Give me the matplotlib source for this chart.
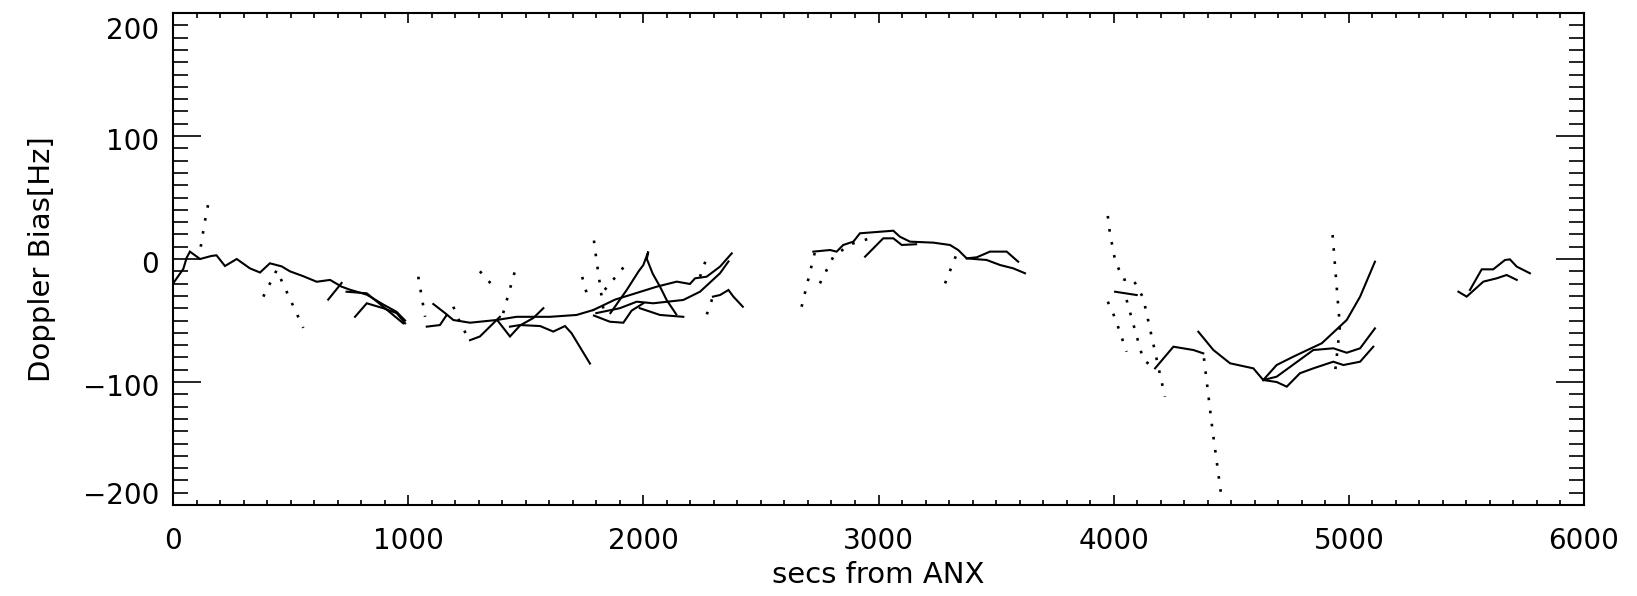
import matplotlib
matplotlib.use("Agg")
import matplotlib.pyplot as plt
from matplotlib.ticker import MultipleLocator
from matplotlib.transforms import ScaledTranslation

# ---------------- data ----------------
x_ticks = [0, 1000, 2000, 3000, 4000, 5000, 6000]
y_ticks = [-200, -100, 0, 100, 200]
x_label = "secs from ANX"
y_label = "Doppler Bias[Hz]"

# pass 1 (0 - 1000 s)
p1a_x = [0, 44, 58, 72, 115, 164, 185, 221, 271, 327, 370, 412, 462, 497, 554, 611, 668, 717, 753, 824, 894, 951, 987]
p1a_y = [-20, -8, 1, 6, 0, 2.5, 3, -5.7, 0, -7.6, -11, -3.5, -6, -10, -14, -18.5, -17, -22.5, -25, -29, -37, -43, -50]
p1b_x = [660, 717]
p1b_y = [-33, -19.5]
p1c_x = [738, 824, 894, 979]
p1c_y = [-26.6, -27.9, -38.8, -52.3]
p1d_x = [774, 824, 894, 951, 987]
p1d_y = [-47, -36, -40, -44, -52.3]
p1e_x = [118, 135, 150]
p1e_y = [10, 30, 45]
p1f_x = [384, 441, 554]
p1f_y = [-30.6, -9, -56]

# pass 2 (1000 - 2450 s)
p2a_x = [1043, 1072]
p2a_y = [-14.4, -47]
p2b_x = [1079, 1135, 1164]
p2b_y = [-55, -53.7, -45.5]
p2c_x = [1107, 1157, 1192, 1263, 1376, 1461, 1603, 1716, 1787]
p2c_y = [-36.6, -44, -49.6, -51.8, -49.6, -47, -47, -45.5, -41.5]
p2d_x = [1192, 1228, 1263]
p2d_y = [-38.8, -55, -66]
p2e_x = [1263, 1305, 1390]
p2e_y = [-66, -63, -47]
p2f_x = [1404, 1461]
p2f_y = [-44, -5]
p2g_x = [1380, 1433, 1476, 1532, 1575]
p2g_y = [-50, -63, -54, -48, -40]
p2h_x = [1433, 1476, 1561, 1617, 1667, 1695, 1773]
p2h_y = [-55, -53.7, -54.5, -59, -54.5, -60.4, -85]
p2i_x = [1305, 1361]
p2i_y = [-10, -22]
p2j_x = [1740, 1765]
p2j_y = [-14.6, -32]
p2k_x = [1790, 1800, 1815, 1830]
p2k_y = [15, 0, -20, -41]
p2l_x = [1787, 1880, 1943, 2057, 2142, 2198, 2220, 2269, 2326, 2376]
p2l_y = [-41.5, -33, -29.3, -22.5, -18.4, -20.3, -15.7, -14.4, -6.2, 4.6]
p2m_x = [1800, 1900, 1972, 2042, 2170, 2241, 2326, 2362]
p2m_y = [-44, -40, -34.7, -36, -33.3, -26.6, -11.6, -2]
p2n_x = [1790, 1858, 1915, 1950, 2000]
p2n_y = [-46, -51, -51.8, -42, -36]
p2o_x = [1985, 2071, 2170]
p2o_y = [-40, -45.5, -47]
p2p_x = [1836, 1880, 1901, 1929]
p2p_y = [-25, -15, -10.3, -3.5]
p2q_x = [1860, 1930, 1980, 2000, 2021, 2015, 2040, 2071, 2099, 2140]
p2q_y = [-44, -25, -10, -4.9, 6, 0, -12, -22.5, -33.3, -45]
p2r_x = [2270, 2296]
p2r_y = [-45, -30.6]
p2s_x = [2296, 2326, 2362, 2383, 2423]
p2s_y = [-30.6, -29.3, -25.2, -30.6, -38.8]
p2t_x = [2241, 2276]
p2t_y = [-14.4, 4.6]

# pass 3 (2650 - 3650 s)
p3a_x = [2673, 2730]
p3a_y = [-38.8, 6]
p3b_x = [2723, 2794, 2822, 2850, 2893, 2921, 3063, 3091, 3134, 3233, 3304, 3339, 3375, 3418, 3474, 3545, 3594]
p3b_y = [6, 7.3, 6, 11.4, 14.1, 20.9, 23, 18.1, 14.1, 13.3, 11.4, 7.3, 0.5, 1.4, 6, 6, -2.2]
p3c_x = [2751, 2808, 2880, 2964]
p3c_y = [-19.8, 1.9, 12, 16.8]
p3d_x = [2943, 3020, 3063, 3099, 3160]
p3d_y = [1.9, 16.8, 16.8, 11.4, 12]
p3e_x = [3375, 3460, 3517, 3573, 3623]
p3e_y = [0.5, -0.8, -4.9, -7.6, -11.6]
p3f_x = [3283, 3339]
p3f_y = [-19.8, 7.3]

# pass 4 (3950 - 5120 s)
p4a_x = [3975, 3984, 4006, 4041]
p4a_y = [35, 21, -1, -17]
p4b_x = [4006, 4098]
p4b_y = [-26.6, -29.3]
p4c_x = [4041, 4077, 4100, 4126, 4218]
p4c_y = [-17, -15.7, -22, -32, -112]
p4d_x = [3975, 4006, 4055]
p4d_y = [-34.7, -48, -75.4]
p4e_x = [4055, 4126, 4176]
p4e_y = [-33.3, -82, -88.9]
p4f_x = [4176, 4254, 4339, 4381]
p4f_y = [-88.9, -71.3, -74, -76.7]
p4g_x = [4384, 4419, 4459]
p4g_y = [-80.7, -137, -194.6]
p4h_x = [4360, 4424, 4495, 4594, 4636, 4693, 4764, 4885, 4991, 5048, 5111]
p4h_y = [-59.1, -74, -84.8, -88.9, -98.4, -86.2, -79.4, -68.5, -49.6, -30.6, -2.2]
p4i_x = [4636, 4693, 4849, 4934, 4991, 5048, 5111]
p4i_y = [-98.4, -95.7, -74, -72.6, -76.2, -72.6, -56.4]
p4j_x = [4636, 4693, 4736, 4792, 4849, 4934, 4977, 5048, 5104]
p4j_y = [-98.4, -100, -103.8, -92.9, -88.9, -83.5, -86.2, -83.5, -71.3]
p4k_x = [4931, 4951, 4962, 4941]
p4k_y = [19.5, -29, -55, -93]

# pass 5 (5450 - 5800 s)
p5a_x = [5466, 5501, 5572, 5629, 5671, 5714]
p5a_y = [-26.6, -30.6, -18.4, -15.7, -13, -17]
p5b_x = [5515, 5565, 5614, 5664, 5685, 5714, 5770]
p5b_y = [-25.2, -8.4, -8.4, -0.8, -0.3, -6.2, -11.6]

solid_tracks = [
    (p1a_x, p1a_y), (p1b_x, p1b_y), (p1c_x, p1c_y), (p1d_x, p1d_y),
    (p2b_x, p2b_y), (p2c_x, p2c_y), (p2e_x, p2e_y), (p2g_x, p2g_y), (p2h_x, p2h_y),
    (p2l_x, p2l_y), (p2m_x, p2m_y), (p2n_x, p2n_y), (p2o_x, p2o_y), (p2q_x, p2q_y),
    (p2s_x, p2s_y),
    (p3b_x, p3b_y), (p3d_x, p3d_y), (p3e_x, p3e_y),
    (p4b_x, p4b_y), (p4f_x, p4f_y), (p4h_x, p4h_y), (p4i_x, p4i_y), (p4j_x, p4j_y),
    (p5a_x, p5a_y), (p5b_x, p5b_y),
]
dotted_tracks = [
    (p1e_x, p1e_y), (p1f_x, p1f_y),
    (p2a_x, p2a_y), (p2d_x, p2d_y), (p2f_x, p2f_y), (p2i_x, p2i_y), (p2j_x, p2j_y),
    (p2k_x, p2k_y), (p2p_x, p2p_y), (p2r_x, p2r_y), (p2t_x, p2t_y),
    (p3a_x, p3a_y), (p3c_x, p3c_y), (p3f_x, p3f_y),
    (p4a_x, p4a_y), (p4c_x, p4c_y), (p4d_x, p4d_y), (p4e_x, p4e_y), (p4g_x, p4g_y),
    (p4k_x, p4k_y),
]

# ---------------- figure ----------------
plt.rcParams['font.family'] = ['DejaVu Sans']
fig = plt.figure(figsize=(16.37, 5.96), dpi=100)
ax = fig.add_axes([173 / 1637, 1 - 505 / 596, 1411 / 1637, 492 / 596])

for xs, ys in solid_tracks:
    ax.plot(xs, ys, color='black', lw=1.5, solid_joinstyle='miter')
for xs, ys in dotted_tracks:
    ax.plot(xs, ys, color='black', lw=1.9, linestyle=(0, (1, 4)))

ax.set_xlim(0, 6000)
ax.set_ylim(-200, 200)
ax.set_xticks(x_ticks)
ax.set_yticks(y_ticks)
ax.set_xticklabels([str(v) for v in x_ticks])
ax.set_yticklabels([str(v).replace('-', '\u2212') for v in y_ticks])
ax.xaxis.set_minor_locator(MultipleLocator(100))
ax.yaxis.set_minor_locator(MultipleLocator(10))

for s in ax.spines.values():
    s.set_linewidth(1.5)

ax.tick_params(axis='x', which='major', direction='in', length=7.2, width=1.2,
               top=True, bottom=True, labelsize=20, pad=16)
ax.tick_params(axis='x', which='minor', direction='in', length=3.6, width=1.2,
               top=True, bottom=True)
ax.tick_params(axis='y', which='major', direction='in', length=20, width=1.2,
               left=True, right=True, labelsize=20, pad=10)
ax.tick_params(axis='y', which='minor', direction='in', length=10.8, width=1.2,
               left=True, right=True)

# IDL keeps the end labels inside the axis range
ylabs = ax.get_yticklabels()
for i, lab in enumerate(ylabs):
    dy = -2 / 72
    if i == len(ylabs) - 1:
        dy = -11 / 72
    elif i == 0:
        dy = 9 / 72
    lab.set_transform(lab.get_transform() + ScaledTranslation(0, dy, fig.dpi_scale_trans))

ax.set_xlabel(x_label, fontsize=21)
ax.set_ylabel(y_label, fontsize=21)
ax.xaxis.label.set_va('center')
ax.yaxis.label.set_va('center')
ax.xaxis.set_label_coords(0.5, -(575 - 505) / 492)
ax.yaxis.set_label_coords(-(173 - 42) / 1411, 0.5)

fig.savefig("out.png", dpi=100, facecolor='white')
